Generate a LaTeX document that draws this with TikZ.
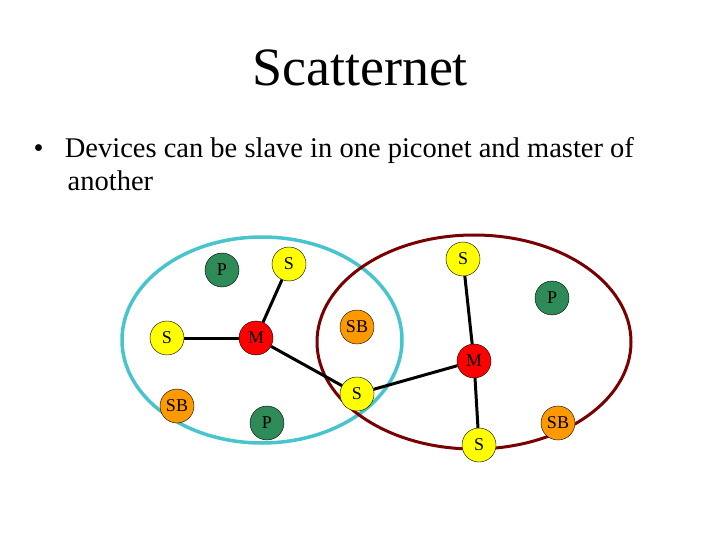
\documentclass[tikz,border=0pt]{standalone}
\usepackage{fontspec}
\setmainfont{Liberation Serif}
\definecolor{netcyan}{RGB}{72,196,204}
\definecolor{netred}{RGB}{120,0,0}
\definecolor{pgreen}{RGB}{46,139,87}
\definecolor{sbyellow}{RGB}{255,255,0}
\definecolor{sborange}{RGB}{255,153,0}
\definecolor{mred}{RGB}{255,0,0}
\tikzset{
  dev/.style={circle, draw=black, thin, minimum size=34pt, inner sep=0pt, font=\fontsize{18}{18}\selectfont},
  pnode/.style={dev, fill=pgreen},
  snode/.style={dev, fill=sbyellow},
  sbnode/.style={dev, fill=sborange},
  mnode/.style={dev, fill=mred},
  link/.style={line width=3pt}
}
\begin{document}
\begin{tikzpicture}[x=1pt,y=-1pt]
\useasboundingbox (0,0) rectangle (720,540);
\node (title) at (360,68) {\fontsize{54}{54}\selectfont Scatternet};
\node[anchor=west, align=left, font=\fontsize{28.5}{33}\selectfont] (bullet) at (30,164)
  {\textbullet\hspace{0.75em}Devices can be slave in one piconet and master of\\\hspace{1.2em}another};
% piconets
\draw[netcyan, line width=3.5pt] (262,340) ellipse (140 and 103);
\draw[netred, line width=3pt] (474,342) ellipse (157 and 107);
% devices
\node[pnode] (p1) at (222,270) {P};
\node[snode] (s1) at (289,264) {S};
\node[snode] (s2) at (463,259) {S};
\node[pnode] (p2) at (552,298) {P};
\node[snode] (s3) at (167,338) {S};
\node[mnode] (m1) at (256,338) {M};
\node[sbnode] (sb1) at (357,327) {SB};
\node[mnode] (m2) at (474,361) {M};
\node[snode] (s4) at (357,394) {S};
\node[sbnode] (sb2) at (177,406) {SB};
\node[pnode] (p3) at (267,423) {P};
\node[sbnode] (sb3) at (558,423) {SB};
\node[snode] (s5) at (479,445) {S};
% links
\draw[link] (s3) -- (m1);
\draw[link] (m1) -- (s1);
\draw[link] (m1) -- (s4);
\draw[link] (s4) -- (m2);
\draw[link] (m2) -- (s2);
\draw[link] (m2) -- (s5);
\end{tikzpicture}
\end{document}
